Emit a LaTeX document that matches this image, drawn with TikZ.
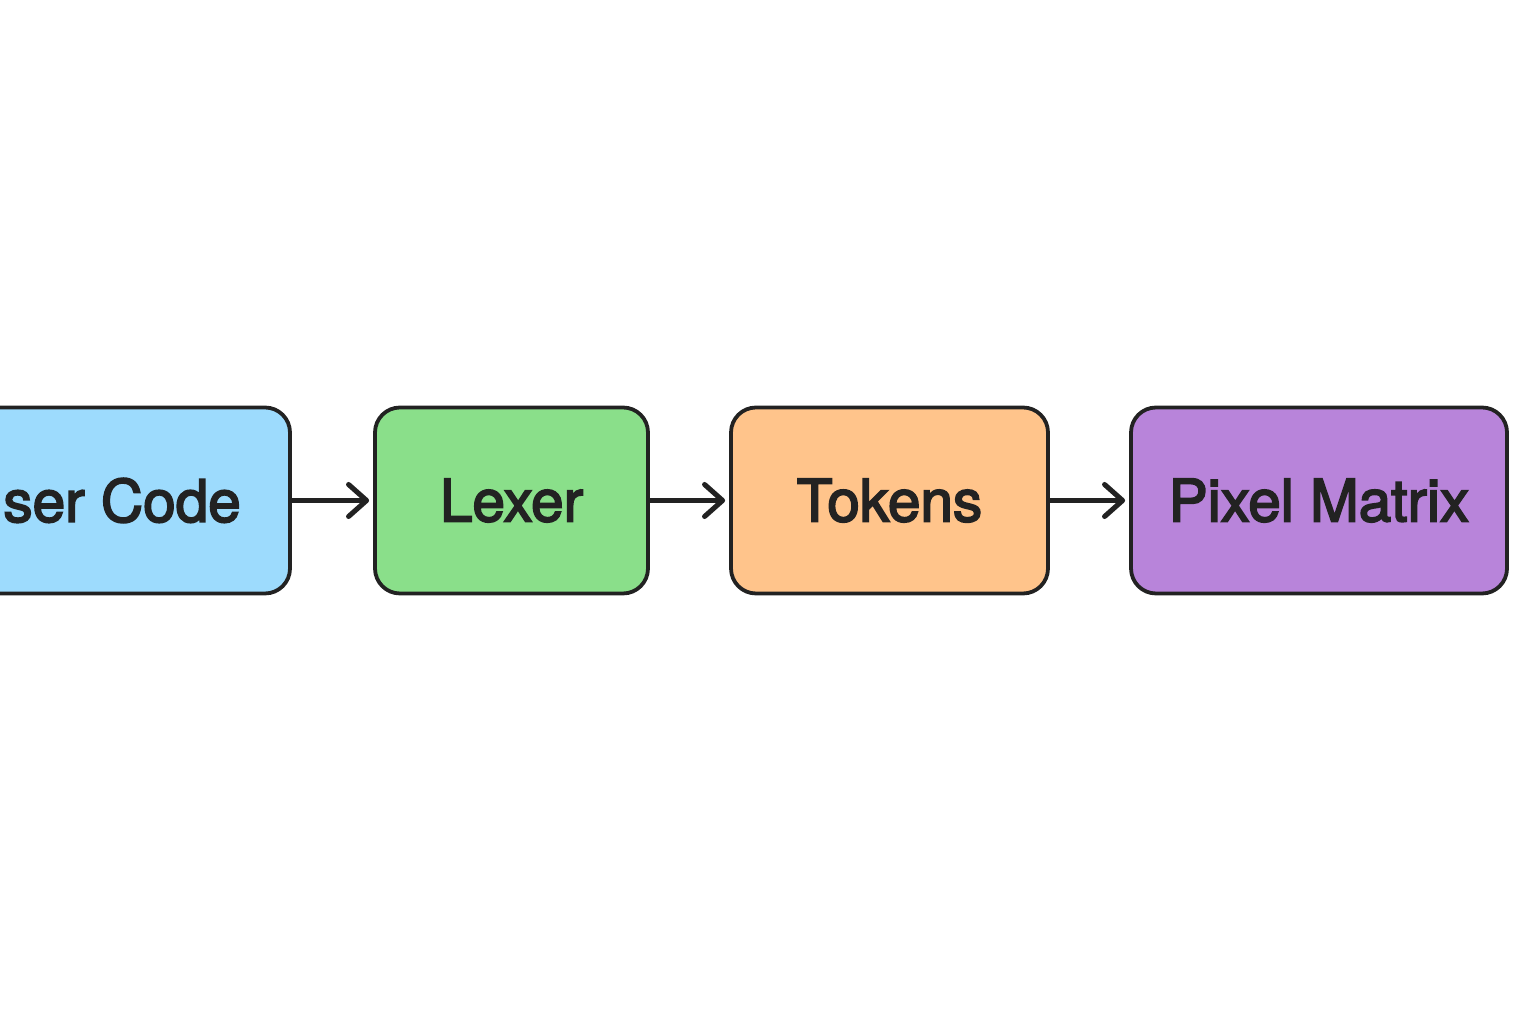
\documentclass[tikz,border=0pt]{standalone}
\usepackage{fontspec}
\setmainfont{TeX Gyre Heros}
\newfontfamily\labelfont[BoldFont={TeX Gyre Heros}, BoldFeatures={FakeBold=3}]{TeX Gyre Heros}
\usetikzlibrary{arrows.meta}
\definecolor{cblue}{HTML}{9DDBFD}
\definecolor{cgreen}{HTML}{8ADF8A}
\definecolor{corange}{HTML}{FFC48B}
\definecolor{cpurple}{HTML}{B884DA}
\definecolor{ink}{HTML}{222222}
\begin{document}
\begin{tikzpicture}[x=1pt,y=1pt,
  stage/.style={draw=ink, line width=3.8pt, rounded corners=25pt, minimum height=186pt,
    font=\labelfont\bfseries\fontsize{58.5}{60}\selectfont, text=ink, inner sep=0pt},
  flow/.style={draw=ink, line width=4.2pt, line cap=round,
    -{Straight Barb[length=18pt,width=32pt,line width=0pt 1.2,round]}}]
\useasboundingbox (0,0) rectangle (1536,1024);
\clip (0,0) rectangle (1536,1024);
\fill[white] (0,0) rectangle (1536,1024);
\node[stage, fill=cblue, minimum width=378pt] (user) at (101,523.5) {User Code};
\node[stage, fill=cgreen, minimum width=273pt] (lexer) at (511.5,523.5) {Lexer};
\node[stage, fill=corange, minimum width=317pt] (tokens) at (889.5,523.5) {Tokens};
\node[stage, fill=cpurple, minimum width=376pt] (pixel) at (1319,523.5) {Pixel Matrix};
\draw[flow] (user.east) -- ([xshift=-4pt]lexer.west);
\draw[flow] (lexer.east) -- ([xshift=-4pt]tokens.west);
\draw[flow] (tokens.east) -- ([xshift=-4pt]pixel.west);
\end{tikzpicture}
\end{document}
